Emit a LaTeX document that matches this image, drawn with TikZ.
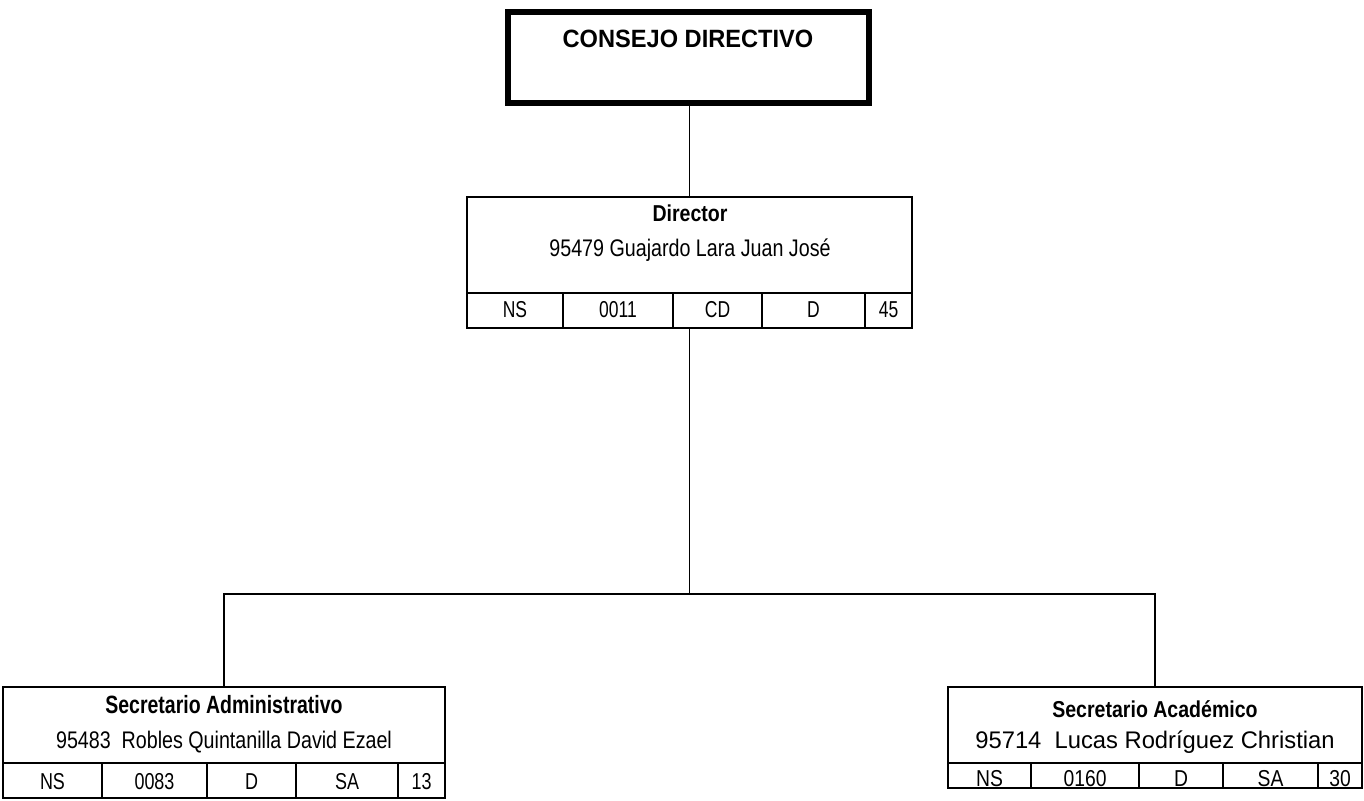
\documentclass[tikz,border=0pt]{standalone}
\usepackage{fontspec}
\usepackage{graphicx}
\setmainfont{Liberation Sans}
\newcommand{\hx}[2]{\scalebox{#1}[1]{#2}}
\tikzset{
  orgbox/.style={draw=black, line width=2pt, rectangle, inner sep=0pt, outer sep=0pt, fill=white},
  topbox/.style={draw=black, line width=6pt, rectangle, inner sep=0pt, outer sep=0pt},
  conn/.style={draw=black, line width=1.6pt},
  cellline/.style={draw=black, line width=1.6pt},
  ttl/.style={inner sep=0pt, anchor=base, font=\fontsize{23}{28}\selectfont\bfseries},
  nm/.style={inner sep=0pt, anchor=base, font=\fontsize{24}{28}\selectfont},
  cell/.style={inner sep=0pt, anchor=base, font=\fontsize{23}{26}\selectfont}
}
\begin{document}
\begin{tikzpicture}[x=1pt,y=-1pt]
\useasboundingbox (0,0) rectangle (1364,800);
% top box
\node[topbox, minimum width=361pt, minimum height=91pt] (cd) at (688.5,57.5) {};
\node[inner sep=0pt, anchor=base, font=\fontsize{25}{30}\selectfont\bfseries] (cdt) at (688,48) {\hx{0.945}{CONSEJO DIRECTIVO}};
% director
\node[orgbox, minimum width=445pt, minimum height=131pt] (dir) at (689.5,262.5) {};
\node[ttl] (dirt) at (690,221) {\hx{0.85}{Director}};
\node[nm] (dirn) at (690,256) {\hx{0.82}{95479 Guajardo Lara Juan José}};
\draw[cellline] (467,293) -- (912,293);
\foreach \x in {563,673,762,865} \draw[cellline] (\x,293) -- (\x,328);
\node[cell] (d1) at (515,317) {\hx{0.76}{NS}};
\node[cell] (d2) at (618,317) {\hx{0.76}{0011}};
\node[cell] (d3) at (717.5,317) {\hx{0.76}{CD}};
\node[cell] (d4) at (813.5,317) {\hx{0.76}{D}};
\node[cell] (d5) at (888.5,317) {\hx{0.76}{45}};
% secretario administrativo
\node[orgbox, minimum width=442pt, minimum height=111pt] (sa) at (224,742.5) {};
\node[ttl, font=\fontsize{25}{28}\selectfont\bfseries] (sat) at (224,713) {\hx{0.78}{Secretario Administrativo}};
\node[nm] (san) at (224,748) {\hx{0.82}{95483\ \ Robles Quintanilla David Ezael}};
\draw[cellline] (3,763) -- (445,763);
\foreach \x in {102,207,296,398} \draw[cellline] (\x,763) -- (\x,798);
\node[cell] (a1) at (52.5,789) {\hx{0.78}{NS}};
\node[cell] (a2) at (154.5,789) {\hx{0.78}{0083}};
\node[cell] (a3) at (251.5,789) {\hx{0.78}{D}};
\node[cell] (a4) at (347,789) {\hx{0.78}{SA}};
\node[cell] (a5) at (421.5,789) {\hx{0.78}{13}};
% secretario academico
\node[orgbox, minimum width=414pt, minimum height=101pt] (sac) at (1155,737.5) {};
\node[ttl] (sact) at (1155,717) {\hx{0.85}{Secretario Académico}};
\node[nm] (sacn) at (1155,748) {\hx{0.99}{95714\ \ Lucas Rodríguez Christian}};
\draw[cellline] (948,763) -- (1362,763);
\foreach \x in {1031,1139,1223,1318} \draw[cellline] (\x,763) -- (\x,788);
\node[cell] (b1) at (989.5,786) {\hx{0.84}{NS}};
\node[cell] (b2) at (1085,786) {\hx{0.84}{0160}};
\node[cell] (b3) at (1181,786) {\hx{0.84}{D}};
\node[cell] (b4) at (1270.5,786) {\hx{0.84}{SA}};
\node[cell] (b5) at (1340,786) {\hx{0.84}{30}};
% connectors
\coordinate (j) at (689.5,594);
\draw[conn] (dir.north |- cd.south) -- (dir.north);
\draw[conn] (dir.south) -- (j);
\draw[conn] (sa.north) |- (j) -| (sac.north);
\end{tikzpicture}
\end{document}
